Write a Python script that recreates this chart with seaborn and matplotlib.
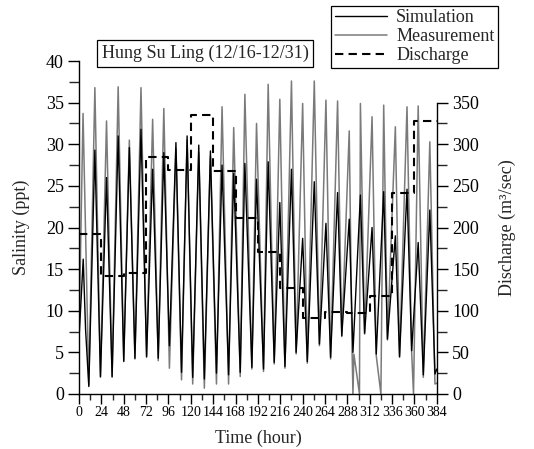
import numpy as np
import pandas as pd
import matplotlib
matplotlib.use("Agg")
import matplotlib.pyplot as plt
import seaborn as sns
from matplotlib.ticker import MultipleLocator, FixedLocator

# Salinity, simulation (hour, ppt) - peaks and troughs
sim_hour = [0, 4.5, 7, 10.5, 17, 23, 29.5, 35.5, 42, 48, 54, 60, 66.5, 72.5, 79, 85,
            91, 97, 104, 110, 116, 122, 128.5, 134.5, 141, 147.5, 153.5, 160.5, 166, 173,
            178, 185.5, 190.5, 198, 203, 209.5, 215.5, 221, 228, 233, 240, 245, 252.5, 258,
            265, 270, 277.5, 282, 290, 294, 302, 306.5, 314.5, 319, 327, 331, 339.5, 344,
            352, 357, 364, 369.5, 376.5, 382, 384]
sim_sal = [6.7, 16.2, 7.8, 0.9, 29.3, 2.1, 26.0, 2.1, 31.0, 3.9, 29.6, 4.3, 31.8, 4.5, 27.0, 4.3,
           29.0, 5.8, 30.2, 2.6, 31.0, 2.0, 29.9, 1.8, 29.2, 2.5, 27.5, 2.3, 26.5, 2.6,
           27.7, 3.2, 25.8, 3.0, 27.9, 3.8, 23.0, 3.3, 27.0, 5.0, 18.7, 3.9, 25.5, 6.0,
           20.5, 4.4, 24.2, 7.0, 21.0, 5.0, 23.9, 7.3, 20.0, 4.8, 24.3, 6.6, 19.0, 4.5,
           24.6, 5.2, 18.2, 2.3, 22.1, 2.4, 3.0]

# Salinity, measurement (hour, ppt)
meas_hour = [0, 4.3, 10.5, 17, 23, 29.5, 35.5, 42, 48, 54, 60, 66.5, 72.5, 79, 85,
             91, 97, 104, 110, 116, 122, 128.5, 134.5, 141, 147.5, 153.5, 160.5, 166, 173,
             178, 185.5, 190.5, 198, 203, 209.5, 215.5, 221, 228, 233, 240, 245, 252.5, 258,
             265, 270, 277.5, 282, 290, 293, 294, 295, 301, 302, 306.5, 314.5, 319, 324, 327,
             331, 339.5, 344, 352, 357, 359, 364, 369.5, 376.5, 382, 384]
meas_sal = [7.0, 33.7, 1.1, 36.8, 2.0, 32.8, 2.0, 36.9, 4.0, 30.5, 4.2, 36.8, 4.4, 33.0, 4.0,
            34.3, 3.1, 29.5, 1.7, 30.5, 1.2, 29.0, 0.7, 28.5, 1.2, 34.5, 1.2, 32.0, 2.1,
            36.0, 3.0, 32.5, 2.7, 37.2, 3.6, 35.4, 3.1, 37.6, 4.8, 34.9, 3.7, 37.6, 5.8,
            35.3, 4.2, 35.2, 6.9, 31.6, 5.5, 0.0, 4.8, 0.0, 34.9, 7.2, 33.3, 4.6, 0.0, 34.7,
            6.5, 32.1, 4.4, 34.5, 5.0, 0.0, 34.6, 2.0, 30.3, 1.2, 1.3]

# Daily discharge (m3/sec), step starts
q_hour = [0, 24, 48, 72, 96, 120, 144, 168, 192, 216, 240, 264, 288, 312, 336, 360, 384]
q_val = [192, 142, 145, 285, 269, 335, 268, 212, 171, 127, 91, 98, 97, 118, 241, 328, 328]

sns.set_style("ticks")
plt.rcParams['font.family'] = ['Liberation Serif', 'DejaVu Serif']

fig = plt.figure(figsize=(5.34, 4.49), dpi=100)
ax = fig.add_axes([0.148, 0.1225, 0.670, 0.7416])
ax2 = ax.twinx()

meas_df = pd.DataFrame({'hour': meas_hour, 'sal': meas_sal})
sim_df = pd.DataFrame({'hour': sim_hour, 'sal': sim_sal})
sns.lineplot(data=meas_df, x='hour', y='sal', ax=ax, color='#7a7a7a', lw=1.1,
             estimator=None, sort=False, label='Measurement', legend=False)
sns.lineplot(data=sim_df, x='hour', y='sal', ax=ax, color='black', lw=1.0,
             estimator=None, sort=False, label='Simulation', legend=False)
ax2.step(q_hour, q_val, where='post', color='black', lw=1.5, ls=(0, (4, 2.5)), label='Discharge')

ax.set_xlim(0, 384)
ax.set_ylim(0, 40)
ax2.set_ylim(0, 400)
ax.set_xticks(range(0, 385, 24))
ax.xaxis.set_minor_locator(MultipleLocator(12))
ax.set_yticks(range(0, 41, 5))
ax.yaxis.set_minor_locator(MultipleLocator(2.5))
ax2.set_yticks(range(0, 351, 50))
ax2.yaxis.set_minor_locator(FixedLocator(list(range(25, 350, 50))))

for s in ['top', 'right']:
    ax.spines[s].set_visible(False)
for s in ['top', 'left', 'bottom']:
    ax2.spines[s].set_visible(False)
ax2.spines['right'].set_bounds(0, 350)
for a in (ax, ax2):
    for s in a.spines.values():
        s.set_linewidth(1.0)
        s.set_color('black')

ax.tick_params(axis='x', which='major', direction='out', length=7, width=1, labelsize=10, pad=2, colors='black')
ax.tick_params(axis='x', which='minor', direction='out', length=4, width=1)
ax.tick_params(axis='y', which='major', direction='out', length=8, width=1, labelsize=13, pad=3, colors='black')
ax.tick_params(axis='y', which='minor', direction='out', length=7, width=1)
ax2.tick_params(axis='y', which='major', direction='out', length=8, width=1, labelsize=13, pad=3, colors='black')
ax2.tick_params(axis='y', which='minor', direction='out', length=7, width=1)

ax.set_xlabel('Time (hour)', fontsize=13, labelpad=7)
ax.set_ylabel('Salinity (ppt)', fontsize=13, labelpad=11)
ax2.set_ylabel('Discharge (m³/sec)', fontsize=13, labelpad=14)

fig.text(0.384, 0.881, 'Hung Su Ling (12/16-12/31)', fontsize=13, ha='center', va='center',
         bbox=dict(boxstyle='square,pad=0.25', fc='white', ec='black', lw=0.9))

h1, l1 = ax.get_legend_handles_labels()
h2, l2 = ax2.get_legend_handles_labels()
order = {'Simulation': 0, 'Measurement': 1, 'Discharge': 2}
items = sorted(zip(h1 + h2, l1 + l2), key=lambda t: order[t[1]])
leg = fig.legend([i[0] for i in items], [i[1] for i in items], loc='upper right',
                 bbox_to_anchor=(0.933, 0.987), fontsize=13, frameon=True, fancybox=False,
                 handlelength=2.9, labelspacing=0.1, borderpad=0.2, handletextpad=0.5,
                 borderaxespad=0)
leg.get_frame().set_edgecolor('black')
leg.get_frame().set_linewidth(0.9)
leg.get_frame().set_alpha(1)

fig.savefig('out.png', dpi=100)
